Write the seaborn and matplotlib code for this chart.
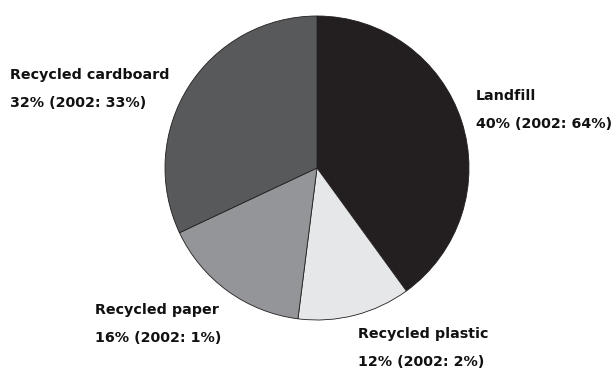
import matplotlib.pyplot as plt
import seaborn as sns

categories = ["Landfill", "Recycled plastic", "Recycled paper", "Recycled cardboard"]
share_now = [40, 12, 16, 32]
share_2002 = [64, 2, 1, 33]
colors = ["#231f20", "#e6e7e8", "#939598", "#58595b"]

sns.set_theme(style="white")
plt.rcParams["font.family"] = ["DejaVu Sans"]

fig = plt.figure(figsize=(6.16, 3.69), dpi=100)
W, H = 616, 369
cx, cy, r = 317, 168, 152
ax = fig.add_axes([(cx - r) / W, (H - cy - r) / H, 2 * r / W, 2 * r / H])
ax.pie(share_now, colors=colors, startangle=90, counterclock=False,
       wedgeprops=dict(edgecolor="#231f20", linewidth=0.6))
ax.set_xlim(-1, 1)
ax.set_ylim(-1, 1)
ax.set_aspect("equal")
ax.axis("off")

# label anchors (left edge, y of first line) in pixels from top-left
label_pos = {
    "Landfill": (476, 96),
    "Recycled plastic": (358, 334),
    "Recycled paper": (95, 310),
    "Recycled cardboard": (10, 75),
}
for cat, now, old in zip(categories, share_now, share_2002):
    x, y = label_pos[cat]
    fig.text(x / W, 1 - y / H, cat, fontsize=10.3, fontweight="bold",
             color="#111111", va="center", ha="left")
    fig.text(x / W, 1 - (y + 28) / H, f"{now}% (2002: {old}%)", fontsize=10.3,
             fontweight="bold", color="#111111", va="center", ha="left")

fig.savefig("out.png", dpi=100)
